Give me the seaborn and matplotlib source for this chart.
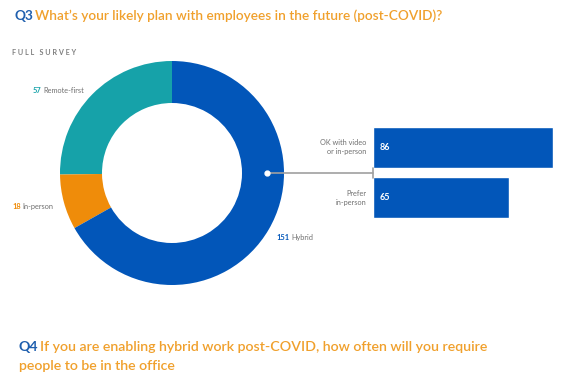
import matplotlib
matplotlib.use("Agg")
import matplotlib.pyplot as plt
import seaborn as sns
import pandas as pd

# donut data
plan_labels = ["Remote-first", "In-person", "Hybrid"]
plan_counts = [57, 18, 151]
plan_colors = ["#16a2a9", "#ef8c0a", "#0256b9"]

# hybrid breakdown
hybrid_labels = ["OK with video\nor in-person", "Prefer\nin-person"]
hybrid_counts = [86, 65]

blue = "#0256b9"
orange = "#f0a02c"
gray = "#707070"

sns.set_theme(style="white")
plt.rcParams["font.family"] = ["Lato", "DejaVu Sans"]

W, H = 586, 384
fig = plt.figure(figsize=(W / 100, H / 100), dpi=100)
fig.patch.set_facecolor("white")

def px(x, y):
    return x / W, 1 - y / H

def two_color(x, y, first, rest, c1, c2, size, gap=3, weight="normal"):
    t1 = fig.text(*px(x, y), first, color=c1, fontsize=size, fontweight="bold", va="baseline")
    fig.canvas.draw()
    bb = t1.get_window_extent()
    fig.text((bb.x1 + gap) / W, 1 - y / H, rest, color=c2, fontsize=size,
             fontweight=weight, va="baseline")

# donut
ax = fig.add_axes([60 / W, (H - 285) / H, 224 / W, 224 / H])
ax.pie(plan_counts, colors=plan_colors, startangle=90, counterclock=True,
       radius=1, wedgeprops=dict(width=0.375, linewidth=0))
ax.set_xlim(-1, 1)
ax.set_ylim(-1, 1)
ax.axis("off")

# bars
bx = fig.add_axes([373 / W, (H - 223) / H, 200 / W, 101 / H])
df = pd.DataFrame({"label": hybrid_labels, "count": hybrid_counts})
sns.barplot(data=df, x="count", y="label", color=blue, width=0.81, ax=bx, saturation=1)
bx.set_xlim(0, 200 / 2.09)
bx.set_ylim(1.5, -0.5)
bx.axis("off")
for i, (lab, v) in enumerate(zip(hybrid_labels, hybrid_counts)):
    bx.annotate(str(v), (0, i), xytext=(5, 0), textcoords="offset points",
                color="white", fontsize=6.5, fontweight="bold", va="center")
    bx.annotate(lab, (0, i), xytext=(-5, 0), textcoords="offset points",
                color=gray, fontsize=5.3, ha="right", va="center", linespacing=1.4)

# connector
fig.add_artist(plt.Line2D([267 / W, 373 / W], [1 - 173 / H] * 2, color="#a0a0a0", lw=1.2))
fig.add_artist(plt.Line2D([373 / W, 373 / W], [1 - 168 / H, 1 - 178 / H], color="#a0a0a0", lw=1.2))
fig.add_artist(plt.Line2D([267 / W], [1 - 173 / H], marker="o", color="white", markersize=3.5,
                          markeredgecolor="white"))

# titles
two_color(14, 20, "Q3", "What\u2019s your likely plan with employees in the future (post-COVID)?",
          "#1f5fae", orange, 9.8, gap=2, weight="semibold")
fig.text(*px(12, 55), "F U L L   S U R V E Y", color="#808080", fontsize=5.2, fontweight="bold")

two_color(33, 93, "57", "Remote-first", plan_colors[0], gray, 5.3, gap=2)
two_color(12, 209, "18", "In-person", plan_colors[1], gray, 5.3, gap=2)
two_color(276, 240, "151", "Hybrid", plan_colors[2], gray, 5.3, gap=2)

two_color(19, 351, "Q4", "If you are enabling hybrid work post-COVID, how often will you require",
          "#1f5fae", orange, 10.2, gap=2, weight="semibold")
fig.text(*px(19, 370), "people to be in the office", color=orange, fontsize=10.2,
         fontweight="semibold", va="baseline")

fig.savefig("out.png", dpi=100)
